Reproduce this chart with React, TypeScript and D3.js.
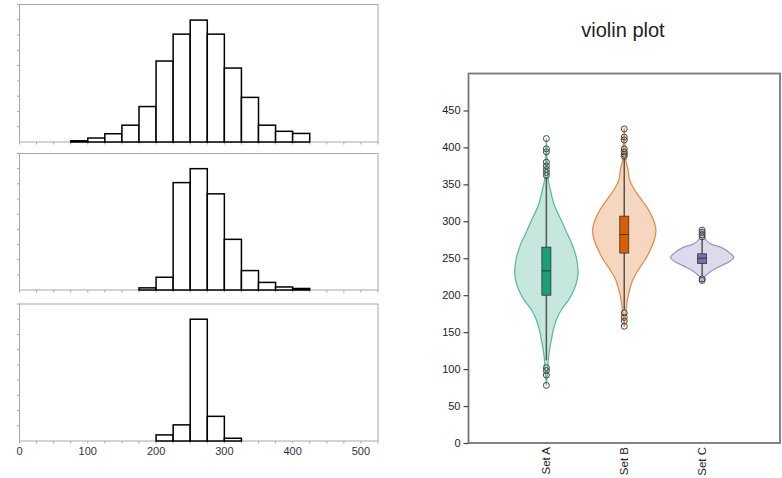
import * as d3 from "d3";
import { useEffect, useRef } from "react";

// histogram data (bins of 25)
const binWidth = 25;
const histStarts = [75, 175, 200];
const histCounts1 = [4, 13, 27, 55, 116, 265, 353, 399, 353, 242, 146, 55, 35, 28];
const histCounts2 = [7, 42, 354, 400, 317, 167, 64, 25, 10, 5];
const histCounts3 = [20, 53, 400, 81, 9];
const histXTicks = [0, 100, 200, 300, 400, 500];

// violin plot data
const setNames = ["Set A", "Set B", "Set C"];
const setColors = ["#1b9e77", "#d95f02", "#7570b3"];

// density profile: value -> relative width
const violinValsA = [78, 99, 112, 126, 140, 153, 167, 180, 194, 207, 220, 232, 250, 268, 286, 304, 322, 340, 358, 380, 412];
const violinDensA = [0, 0.04, 0.06, 0.1, 0.16, 0.22, 0.32, 0.47, 0.71, 0.87, 0.97, 1, 0.95, 0.82, 0.63, 0.44, 0.25, 0.14, 0.05, 0.025, 0];
const violinValsB = [157, 180, 194, 207, 221, 234, 248, 261, 275, 288, 302, 316, 329, 343, 356, 370, 383, 400, 427];
const violinDensB = [0, 0.06, 0.1, 0.17, 0.27, 0.44, 0.66, 0.82, 0.95, 1, 0.92, 0.76, 0.55, 0.32, 0.17, 0.12, 0.05, 0.03, 0];
const violinValsC = [218, 225, 232, 239, 246, 251, 257, 264, 270, 277, 286, 290];
const violinDensC = [0, 0.08, 0.27, 0.56, 0.88, 1, 0.88, 0.63, 0.25, 0.08, 0.04, 0];

// box stats: [lower whisker, q1, median, q3, upper whisker]
const boxA = [112, 200, 233, 265, 360];
const boxB = [180, 257, 282, 307, 386];
const boxC = [226, 243, 250, 256, 277];
const outliersA = [78, 92, 98, 102, 362, 366, 370, 375, 380, 394, 398, 412];
const outliersB = [158, 165, 170, 176, 388, 391, 394, 398, 410, 414, 425];
const outliersC = [220, 222, 279, 282, 285, 288];
const violinYTicks = [0, 50, 100, 150, 200, 250, 300, 350, 400, 450];

const FONT = "'Liberation Sans', Arial, sans-serif";

const App = () => {
  const ref = useRef<SVGSVGElement>(null);

  useEffect(() => {
    const svg = d3.select(ref.current);
    svg.selectAll("*").remove();

    // ---------- histograms ----------
    const x = d3.scaleLinear().domain([0, 525]).range([19.5, 378]);
    const panels = [
      { top: 4.5, bottom: 142, counts: histCounts1, start: histStarts[0] },
      { top: 153.5, bottom: 290, counts: histCounts2, start: histStarts[1] },
      { top: 304, bottom: 441, counts: histCounts3, start: histStarts[2] },
    ];

    panels.forEach((p) => {
      const y = d3.scaleLinear().domain([0, 450]).range([p.bottom, p.top]);
      const g = svg.append("g");

      g.append("rect")
        .attr("x", x(0))
        .attr("y", p.top)
        .attr("width", x(525) - x(0))
        .attr("height", p.bottom - p.top)
        .attr("fill", "white")
        .attr("stroke", "#a8a8a8")
        .attr("stroke-width", 1);

      // left ticks
      g.selectAll("line.yt")
        .data(d3.range(50, 451, 50))
        .join("line")
        .attr("x1", x(0) - 2.5)
        .attr("x2", x(0))
        .attr("y1", (d) => y(d))
        .attr("y2", (d) => y(d))
        .attr("stroke", "#a8a8a8");

      // bottom ticks
      g.selectAll("line.xt")
        .data(d3.range(0, 526, 25))
        .join("line")
        .attr("x1", (d) => x(d))
        .attr("x2", (d) => x(d))
        .attr("y1", p.bottom)
        .attr("y2", p.bottom + 2.5)
        .attr("stroke", "#a8a8a8");

      g.selectAll("rect.bar")
        .data(p.counts)
        .join("rect")
        .attr("x", (d, i) => x(p.start + i * binWidth))
        .attr("y", (d) => y(d))
        .attr("width", x(binWidth) - x(0))
        .attr("height", (d) => p.bottom - y(d))
        .attr("fill", "white")
        .attr("stroke", "black")
        .attr("stroke-width", 1.5);
    });

    svg.append("g")
      .selectAll("text")
      .data(histXTicks)
      .join("text")
      .attr("x", (d) => x(d))
      .attr("y", 455)
      .attr("text-anchor", "middle")
      .attr("font-family", FONT)
      .attr("font-size", 11)
      .attr("fill", "#333")
      .text((d) => d);

    // ---------- violin plot ----------
    const left = 468.5, right = 780, top = 73.5, bottom = 443;
    const vy = d3.scaleLinear().domain([0, 500]).range([bottom, top]);
    const vx = d3.scalePoint<string>().domain(setNames).range([left, right]).padding(1);
    const w = d3.scaleLinear().domain([0, 1]).range([0, 31.7]);

    svg.append("text")
      .attr("x", 623)
      .attr("y", 37)
      .attr("text-anchor", "middle")
      .attr("font-family", FONT)
      .attr("font-size", 20)
      .attr("fill", "#222")
      .text("violin plot");

    svg.append("rect")
      .attr("x", left)
      .attr("y", top)
      .attr("width", right - left)
      .attr("height", bottom - top)
      .attr("fill", "white")
      .attr("stroke", "#777")
      .attr("stroke-width", 1.8);

    const yAxis = svg.append("g")
      .attr("transform", `translate(${left},0)`)
      .call(d3.axisLeft(vy).tickValues(violinYTicks).tickSize(5).tickPadding(3));
    yAxis.select(".domain").remove();
    yAxis.selectAll(".tick line").attr("stroke", "#444").attr("stroke-width", 1.2);
    yAxis.selectAll(".tick text")
      .attr("font-family", FONT)
      .attr("font-size", 11)
      .attr("fill", "#222");

    const sets = [
      { name: setNames[0], vals: violinValsA, dens: violinDensA, box: boxA, out: outliersA, color: setColors[0] },
      { name: setNames[1], vals: violinValsB, dens: violinDensB, box: boxB, out: outliersB, color: setColors[1] },
      { name: setNames[2], vals: violinValsC, dens: violinDensC, box: boxC, out: outliersC, color: setColors[2] },
    ];

    sets.forEach((s) => {
      const cx = vx(s.name) as number;
      const pts = s.vals.map((v, i) => ({ v, d: s.dens[i] }));
      const area = d3.area<{ v: number; d: number }>()
        .y((d) => vy(d.v))
        .x0((d) => cx - w(d.d))
        .x1((d) => cx + w(d.d))
        .curve(d3.curveCatmullRom);

      const g = svg.append("g");
      g.append("path")
        .datum(pts)
        .attr("d", area)
        .attr("fill", s.color)
        .attr("fill-opacity", 0.25)
        .attr("stroke", s.color)
        .attr("stroke-opacity", 0.7)
        .attr("stroke-width", 1.2);

      const [lo, q1, med, q3, hi] = s.box;
      g.append("line")
        .attr("x1", cx).attr("x2", cx)
        .attr("y1", vy(lo)).attr("y2", vy(hi))
        .attr("stroke", "#555")
        .attr("stroke-width", 1.5);

      g.append("rect")
        .attr("x", cx - 4.5)
        .attr("width", 9)
        .attr("y", vy(q3))
        .attr("height", vy(q1) - vy(q3))
        .attr("fill", s.color)
        .attr("stroke", "#333")
        .attr("stroke-width", 0.8);

      g.append("line")
        .attr("x1", cx - 4.5).attr("x2", cx + 4.5)
        .attr("y1", vy(med)).attr("y2", vy(med))
        .attr("stroke", "#333")
        .attr("stroke-width", 1);

      g.selectAll("circle")
        .data(s.out)
        .join("circle")
        .attr("cx", cx)
        .attr("cy", (d) => vy(d))
        .attr("r", 3)
        .attr("fill", "none")
        .attr("stroke", "#444")
        .attr("stroke-width", 1);

      svg.append("text")
        .attr("transform", `translate(${cx},447) rotate(-90)`)
        .attr("text-anchor", "end")
        .attr("dy", "0.35em")
        .attr("font-family", FONT)
        .attr("font-size", 11.5)
        .attr("fill", "#222")
        .text(s.name);
    });
  }, []);

  return (
    <svg
      ref={ref}
      width={782}
      height={478}
      style={{ position: "absolute", left: 0, top: 0, background: "white" }}
    />
  );
};

export default App;
